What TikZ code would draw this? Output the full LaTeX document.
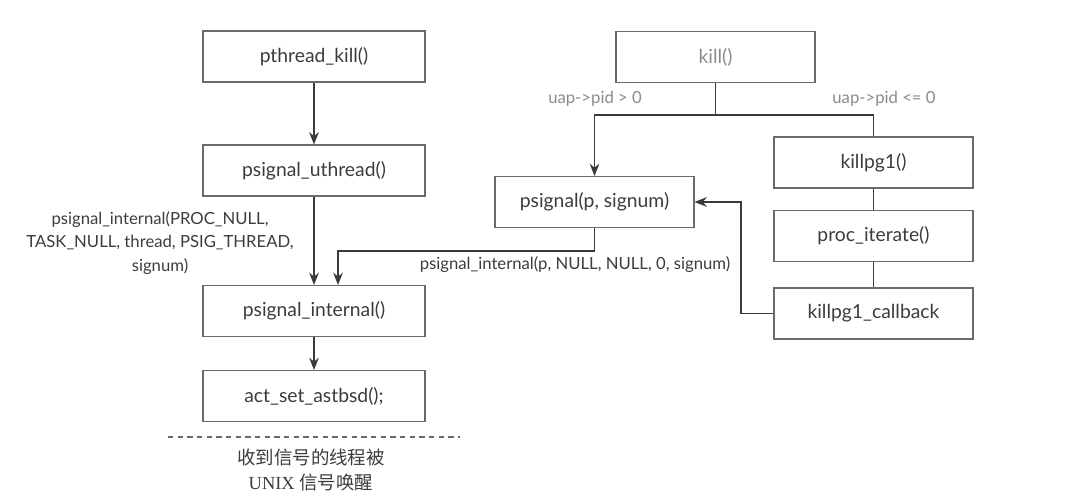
\documentclass[tikz,border=0pt]{standalone}
\usepackage{fontspec}
\setmainfont{Lato}
\newfontfamily\cjk{Noto Sans CJK SC}
\newfontfamily\capserif{Liberation Serif}
\usetikzlibrary{arrows.meta}
\definecolor{linegray}{HTML}{3A3A3A}
\definecolor{boxgray}{HTML}{6A6A6A}
\definecolor{txtgray}{HTML}{3C3C3C}
\definecolor{softgray}{HTML}{8A8A8A}
\begin{document}
\begin{tikzpicture}[x=0.02cm,y=0.02cm,yscale=-1,
    fn/.style={draw=boxgray,line width=0.6pt,minimum width=4.44cm,minimum height=1.02cm,
      inner sep=0pt,font=\fontsize{11}{13}\selectfont,text=txtgray},
    fnr/.style={fn,minimum width=3.98cm},
    lbl/.style={font=\fontsize{9.5}{13.6}\selectfont,text=txtgray},
    flow/.style={draw=linegray,line width=0.8pt,-{Stealth[length=7pt,width=5.5pt]}},
    link/.style={draw=linegray,line width=0.8pt}]
\useasboundingbox (0,0) rectangle (1080,502);
                % left column
                \node[fn]  (1) at (314, 56.5) {pthread\_kill()};
                \node[fn]  (2) at (314, 170.5) {psignal\_uthread()};
                \node[fn]  (3) at (314, 311) {psignal\_internal()};
                \node[fn]  (4) at (314, 396) {act\_set\_astbsd();};
                % right part
                \node[fnr,text=softgray]  (5) at (715.5, 57) {kill()};
                \node[fnr]  (6) at (594.5, 202) {psignal(p, signum)};
                \node[fnr]  (7) at (873.5, 162.5) {killpg1()};
                \node[fnr]  (8) at (873.5, 236) {proc\_iterate()};
                \node[fnr]  (9) at (873.5, 313.5) {killpg1\_callback};
                \coordinate  (10) at (715.5, 115);
                \coordinate  (11) at (338, 251);
                \coordinate  (12) at (741, 202);
                % labels
                \node[lbl,align=center]  (20) at (160, 243) {psignal\_internal(PROC\_NULL,\\TASK\_NULL, thread, PSIG\_THREAD,\\signum)};
                \node[lbl]  (21) at (575, 265) {psignal\_internal(p, NULL, NULL, 0, signum)};
                \node[lbl,text=softgray]  (22) at (595, 99) {uap->pid > 0};
                \node[lbl,text=softgray]  (23) at (884, 99) {uap->pid <= 0};
                \coordinate  (24) at (168, 437);
                \coordinate  (25) at (460, 437);
                \node[align=center,text=txtgray,font=\fontsize{10.5}{14.7}\selectfont]  (26) at (311, 470)
                  {{\cjk 收到信号的线程被}\\{\capserif UNIX} {\cjk 信号唤醒}};
                \draw[flow]  (1) to (2);
                \draw[flow]  (2) to (3);
                \draw[flow]  (3) to (4);
                \draw[link]  (5) to (10);
                \draw[flow]  (10) -| (6.north);
                \draw[link]  (10) -| (7.north);
                \draw[link]  (7) to (8);
                \draw[link]  (8) to (9);
                \draw[flow]  (6.south) |- (11) to (11 |- 3.north);
                \draw[flow]  (9.west) -| (12) to (6.east);
                \draw[boxgray,line width=0.6pt,dash pattern=on 3pt off 2.5pt]  (24) to (25);
\end{tikzpicture}
\end{document}
